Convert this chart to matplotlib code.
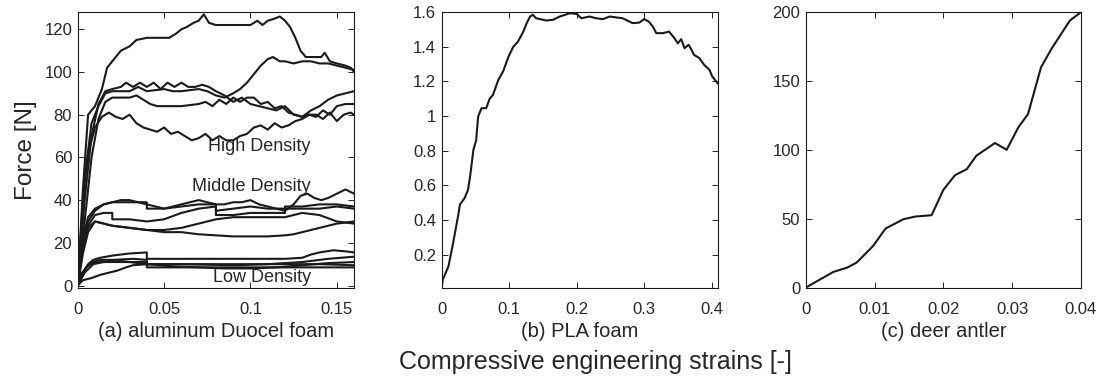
import matplotlib
matplotlib.use("Agg")
import matplotlib.pyplot as plt

plt.rcParams['font.family'] = ['Liberation Sans', 'DejaVu Sans']

TXT = '#262626'

# (a) aluminum Duocel foam -- strain / force [N]
high_1 = ([0, 0.003, 0.006, 0.010, 0.014, 0.017, 0.021, 0.025, 0.030, 0.034, 0.040, 0.046, 0.053, 0.057,
           0.060, 0.063, 0.067, 0.070, 0.073, 0.076, 0.080, 0.090, 0.100, 0.104, 0.107, 0.110, 0.114, 0.117,
           0.120, 0.123, 0.126, 0.129, 0.132, 0.137, 0.141, 0.143, 0.146, 0.150, 0.155, 0.158, 0.160],
          [0, 45, 80, 84, 92, 102, 106, 110, 112, 115, 116, 116, 116, 118,
           120, 121, 123, 124, 127, 123, 122, 122, 122, 124, 122, 124, 125, 126,
           124, 121, 116, 110, 107, 107, 107, 109, 105, 104, 103, 102, 100])
high_2 = ([0, 0.004, 0.008, 0.012, 0.016, 0.020, 0.030, 0.035, 0.040, 0.050, 0.055, 0.060, 0.070, 0.075,
           0.080, 0.085, 0.090, 0.094, 0.098, 0.102, 0.106, 0.110, 0.113, 0.117, 0.120, 0.125, 0.130, 0.135,
           0.140, 0.145, 0.150, 0.155, 0.160],
          [0, 50, 76, 84, 90, 91, 91, 93, 91, 92, 91, 91, 92, 91,
           89, 88, 90, 92, 95, 99, 103, 106, 107, 105, 105, 104, 105, 105,
           104, 104, 103, 102, 101])
high_3 = ([0, 0.004, 0.008, 0.012, 0.016, 0.020, 0.025, 0.028, 0.032, 0.036, 0.040, 0.044, 0.048, 0.052,
           0.056, 0.060, 0.064, 0.068, 0.072, 0.076, 0.080, 0.085, 0.090, 0.095, 0.100, 0.105, 0.110, 0.115,
           0.120, 0.125, 0.130, 0.135, 0.140, 0.145, 0.150, 0.155, 0.160],
          [0, 40, 70, 85, 91, 92, 93, 95, 93, 95, 93, 95, 92, 95,
           93, 95, 93, 93, 94, 93, 91, 89, 86, 88, 85, 84, 83, 82,
           84, 80, 79, 82, 84, 87, 89, 90, 91])
high_4 = ([0, 0.004, 0.008, 0.012, 0.016, 0.020, 0.025, 0.030, 0.034, 0.038, 0.042, 0.046, 0.050, 0.060,
           0.070, 0.074, 0.078, 0.082, 0.086, 0.090, 0.094, 0.098, 0.102, 0.106, 0.110, 0.114, 0.118, 0.122,
           0.126, 0.130, 0.134, 0.138, 0.142, 0.146, 0.150, 0.154, 0.158, 0.160],
          [0, 30, 60, 78, 86, 88, 88, 88, 89, 87, 85, 84, 84, 84,
           85, 86, 84, 87, 85, 88, 86, 88, 88, 85, 86, 83, 84, 81,
           80, 79, 80, 80, 78, 81, 77, 80, 81, 80])
high_5 = ([0, 0.003, 0.006, 0.010, 0.014, 0.018, 0.022, 0.026, 0.030, 0.034, 0.038, 0.042, 0.046, 0.050,
           0.054, 0.058, 0.062, 0.066, 0.070, 0.074, 0.078, 0.082, 0.086, 0.090, 0.094, 0.098, 0.102, 0.106,
           0.110, 0.114, 0.118, 0.122, 0.126, 0.130, 0.134, 0.138, 0.142, 0.146, 0.150, 0.155, 0.160],
          [0, 40, 62, 74, 79, 81, 79, 78, 80, 76, 74, 73, 72, 74,
           71, 72, 70, 68, 69, 71, 68, 70, 68, 68, 70, 71, 74, 75,
           73, 76, 74, 75, 77, 78, 80, 79, 82, 80, 84, 85, 85])

mid_1 = ([0, 0.003, 0.006, 0.010, 0.015, 0.020, 0.025, 0.030, 0.035, 0.040, 0.045, 0.050, 0.055, 0.060,
          0.065, 0.070, 0.075, 0.080, 0.085, 0.090, 0.095, 0.100, 0.105, 0.110, 0.115, 0.120, 0.125, 0.129,
          0.133, 0.137, 0.141, 0.145, 0.150, 0.155, 0.160],
         [0, 22, 32, 36, 38, 39, 40, 40, 39, 38, 37, 36, 37, 38,
          39, 40, 39, 38, 38, 39, 39, 40, 38, 37, 36, 35, 38, 42,
          43, 41, 40, 41, 43, 45, 43])
mid_2 = ([0, 0.003, 0.006, 0.010, 0.015, 0.020, 0.030, 0.040, 0.040, 0.050, 0.060, 0.070, 0.080, 0.080,
          0.090, 0.100, 0.110, 0.120, 0.120, 0.130, 0.140, 0.150, 0.160],
         [0, 20, 30, 35, 38, 39, 39, 39, 36, 36, 37, 38, 38, 35,
          36, 37, 36, 36, 37, 37, 38, 38, 37])
mid_3 = ([0, 0.003, 0.006, 0.010, 0.015, 0.020, 0.020, 0.030, 0.040, 0.050, 0.060, 0.070, 0.080, 0.080,
          0.090, 0.100, 0.110, 0.120, 0.120, 0.130, 0.140, 0.150, 0.160],
         [0, 18, 28, 33, 34, 34, 31, 31, 30, 31, 34, 36, 37, 33,
          33, 34, 34, 34, 36, 36, 36, 37, 36])
mid_4 = ([0, 0.003, 0.006, 0.010, 0.020, 0.030, 0.040, 0.050, 0.060, 0.070, 0.080, 0.090, 0.100, 0.110,
          0.120, 0.130, 0.140, 0.150, 0.160],
         [0, 15, 25, 30, 28, 27, 26, 26, 27, 29, 31, 32, 32, 32,
          32, 34, 33, 30, 29])
mid_5 = ([0, 0.003, 0.006, 0.010, 0.020, 0.030, 0.040, 0.050, 0.060, 0.070, 0.080, 0.090, 0.100, 0.110,
          0.120, 0.125, 0.130, 0.140, 0.150, 0.160],
         [0, 18, 27, 30, 28, 27, 26, 25, 25, 24, 23.5, 23, 23, 23,
          23.5, 24, 25, 27, 29, 30])

low_1 = ([0, 0.003, 0.006, 0.009, 0.013, 0.020, 0.030, 0.040, 0.040, 0.060, 0.080, 0.100, 0.120, 0.130,
          0.135, 0.140, 0.148, 0.155, 0.160],
         [0, 6, 10, 12, 13, 14, 15, 15.5, 12.5, 12.5, 12.5, 12.5, 12.5, 13,
          14.5, 15.5, 16.5, 16, 15.5])
low_2 = ([0, 0.003, 0.005, 0.009, 0.013, 0.020, 0.032, 0.040, 0.040, 0.060, 0.090, 0.110, 0.130, 0.145, 0.160],
         [0, 5, 8.5, 11, 12, 12, 12.5, 12, 10, 10, 9.5, 10, 11, 12.5, 13.5])
low_3 = ([0, 0.004, 0.009, 0.015, 0.025, 0.040, 0.055, 0.070, 0.085, 0.100, 0.115, 0.130, 0.145, 0.160],
         [0, 6, 10, 11, 11.5, 10, 9, 8.5, 8, 8, 8.5, 9.5, 10.5, 11])
low_4 = ([0, 0.003, 0.008, 0.013, 0.018, 0.023, 0.028, 0.032, 0.040, 0.060, 0.080, 0.100, 0.120, 0.140, 0.160],
         [0, 2.5, 3.5, 5, 6, 7, 8.5, 9.5, 10, 10, 10, 10, 10, 10, 9.5])
low_5 = ([0, 0.002, 0.005, 0.008, 0.013, 0.020, 0.030, 0.040, 0.040, 0.060, 0.080, 0.100, 0.120, 0.140, 0.160],
         [0, 5.5, 8.5, 10.5, 11, 11, 11, 11, 8.5, 8.5, 8.5, 8.5, 8.5, 8.5, 8.5])

foam_curves = [high_1, high_2, high_3, high_4, high_5,
               mid_1, mid_2, mid_3, mid_4, mid_5,
               low_1, low_2, low_3, low_4, low_5]

# (b) PLA foam
pla_strain = [0, 0.0015, 0.010, 0.017, 0.025, 0.027, 0.034, 0.039, 0.042, 0.047, 0.051, 0.054, 0.059,
              0.066, 0.071, 0.076, 0.084, 0.091, 0.099, 0.106, 0.113, 0.121, 0.126, 0.131, 0.135, 0.140,
              0.155, 0.165, 0.175, 0.190, 0.200, 0.207, 0.219, 0.229, 0.239, 0.249, 0.268, 0.283, 0.293,
              0.300, 0.307, 0.313, 0.318, 0.328, 0.337, 0.345, 0.350, 0.355, 0.360, 0.366, 0.369, 0.374,
              0.382, 0.389, 0.397, 0.401, 0.409]
pla_force = [0.01, 0.056, 0.133, 0.27, 0.44, 0.49, 0.527, 0.575, 0.65, 0.806, 0.86, 0.998, 1.046,
             1.046, 1.10, 1.123, 1.21, 1.258, 1.344, 1.40, 1.43, 1.488, 1.537, 1.575, 1.585, 1.565,
             1.552, 1.556, 1.575, 1.594, 1.59, 1.565, 1.575, 1.565, 1.56, 1.575, 1.565, 1.537, 1.54,
             1.56, 1.546, 1.517, 1.479, 1.479, 1.488, 1.45, 1.42, 1.444, 1.392, 1.412, 1.392, 1.354,
             1.335, 1.296, 1.267, 1.229, 1.19]

# (c) deer antler
antler_strain = [0, 0.004, 0.006, 0.0074, 0.0098, 0.0116, 0.0142, 0.0159, 0.0183, 0.020, 0.0217,
                 0.0234, 0.0248, 0.0275, 0.0292, 0.0309, 0.0323, 0.0342, 0.0357, 0.0384, 0.040]
antler_force = [0, 11.4, 14.5, 18.2, 30.3, 42.9, 49.7, 51.6, 52.6, 71, 81.7,
                86, 95.8, 105, 100.1, 116.4, 126, 160, 173.3, 194, 200]

fig = plt.figure(figsize=(11.01, 3.81), dpi=100)
ax_a = fig.add_axes([0.0706, 0.245, 0.251, 0.723])
ax_b = fig.add_axes([0.4012, 0.245, 0.2512, 0.723])
ax_c = fig.add_axes([0.7318, 0.245, 0.250, 0.723])

for x, y in foam_curves:
    ax_a.plot(x, y, color='#1a1a1a', lw=1.5)
ax_a.set_xlim(0, 0.16)
ax_a.set_ylim(-1, 128)
ax_a.set_xticks([0, 0.05, 0.1, 0.15], ['0', '0.05', '0.1', '0.15'])
ax_a.set_yticks(range(0, 121, 20))
ax_a.text(0.105, 65, 'High Density', ha='center', va='center', fontsize=13, color=TXT)
ax_a.text(0.1004, 46.3, 'Middle Density', ha='center', va='center', fontsize=13, color=TXT)
ax_a.text(0.1066, 3.8, 'Low Density', ha='center', va='center', fontsize=13, color=TXT)
ax_a.set_xlabel('(a) aluminum Duocel foam', fontsize=14.5, color=TXT, labelpad=4)
ax_a.set_ylabel('Force [N]', fontsize=17.5, color=TXT, labelpad=5)

ax_b.plot(pla_strain, pla_force, color='#1a1a1a', lw=1.5)
ax_b.set_xlim(0, 0.41)
ax_b.set_ylim(0.01, 1.6)
ax_b.set_xticks([0, 0.1, 0.2, 0.3, 0.4], ['0', '0.1', '0.2', '0.3', '0.4'])
ax_b.set_yticks([0.2, 0.4, 0.6, 0.8, 1.0, 1.2, 1.4, 1.6], ['0.2', '0.4', '0.6', '0.8', '1', '1.2', '1.4', '1.6'])
ax_b.set_xlabel('(b) PLA foam', fontsize=14.5, color=TXT, labelpad=4)

ax_c.plot(antler_strain, antler_force, color='#1a1a1a', lw=1.5)
ax_c.set_xlim(0, 0.04)
ax_c.set_ylim(0, 200)
ax_c.set_xticks([0, 0.01, 0.02, 0.03, 0.04], ['0', '0.01', '0.02', '0.03', '0.04'])
ax_c.set_yticks([0, 50, 100, 150, 200])
ax_c.set_xlabel('(c) deer antler', fontsize=14.5, color=TXT, labelpad=4)

for ax in (ax_a, ax_b, ax_c):
    ax.tick_params(direction='in', top=True, right=True, length=4, width=0.6,
                   labelsize=12, labelcolor=TXT)
    ax.tick_params(axis='x', pad=10)
    ax.tick_params(axis='y', pad=4)
    for s in ax.spines.values():
        s.set_linewidth(0.8)
        s.set_color('#1a1a1a')

fig.text(0.541, 0.05, 'Compressive engineering strains [-]', ha='center', va='center',
         fontsize=18, color=TXT)

fig.savefig('out.png', dpi=100)
